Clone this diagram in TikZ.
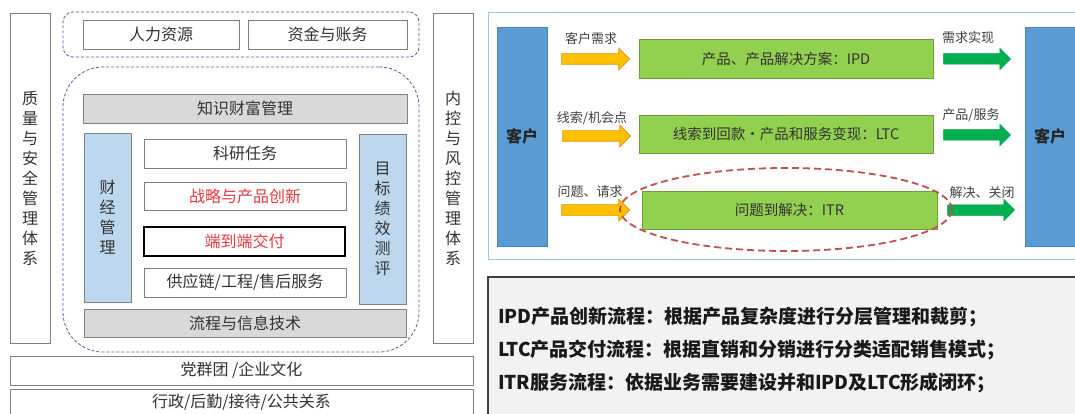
\documentclass[tikz,border=0pt]{standalone}
\usepackage{fontspec}
\setmainfont{Noto Sans CJK SC}
\usetikzlibrary{shapes.arrows,shapes.geometric}
\definecolor{txt}{HTML}{333333}
\definecolor{bord}{HTML}{808080}
\definecolor{lblue}{HTML}{BDD7EE}
\definecolor{lgray}{HTML}{D9D9D9}
\definecolor{dashc}{HTML}{5A5AA8}
\definecolor{redt}{HTML}{E8383D}
\definecolor{kblue}{HTML}{5B9BD5}
\definecolor{kblueb}{HTML}{4A86BE}
\definecolor{gfill}{HTML}{92D050}
\definecolor{gbord}{HTML}{6E9E3A}
\definecolor{yfill}{HTML}{FFC000}
\definecolor{ybord}{HTML}{D9950A}
\definecolor{afill}{HTML}{00B050}
\definecolor{abord}{HTML}{009A45}
\definecolor{frame}{HTML}{9DC3E6}
\definecolor{ellc}{HTML}{C0504D}
\definecolor{panel}{HTML}{F2F2F2}
\begin{document}
\begin{tikzpicture}[x=1pt,y=-1pt,
  every node/.style={inner sep=0pt,outer sep=0pt},
  lbox/.style={draw=bord,line width=0.9pt,fill=white,text=txt,font=\fontsize{16}{20}\selectfont},
  vbox/.style={lbox,align=center},
  grayb/.style={lbox,fill=lgray},
  blueb/.style={lbox,fill=lblue,align=center},
  grp/.style={draw=dashc,line width=0.8pt,dash pattern=on 3pt off 2pt},
  kbox/.style={draw=kblueb,line width=0.6pt,fill=kblue,font=\fontsize{16}{20}\selectfont\bfseries,text=black!85},
  gbox/.style={draw=gbord,line width=0.8pt,fill=gfill,font=\fontsize{14.5}{17}\selectfont,text=black!80},
  barrow/.style={single arrow,inner xsep=0pt,inner ysep=5pt,single arrow head extend=5.5pt,single arrow head indent=0pt,shape border rotate=0},
  yarrow/.style={barrow,draw=ybord,line width=0.7pt,fill=yfill,minimum height=68pt},
  garrow/.style={barrow,draw=abord,line width=0.5pt,fill=afill,minimum height=67pt},
  lab/.style={font=\fontsize{13}{15}\selectfont,text=black!75},
  btxt/.style={anchor=west,font=\fontsize{19}{22}\selectfont\bfseries,text=black!90}]
\useasboundingbox (0,0) rectangle (1075,414);
\clip (0,0) rectangle (1075,414);
\fill[white] (0,0) rectangle (1075,414);
% ---------- left part ----------
\node[vbox,minimum width=40pt,minimum height=330pt] (qa) at (30,178) {质\\量\\与\\安\\全\\管\\理\\体\\系};
\node[vbox,minimum width=40pt,minimum height=330pt] (nk) at (453,178) {内\\控\\与\\风\\控\\管\\理\\体\\系};
\node[grp,rounded corners=10pt,minimum width=356pt,minimum height=45pt] (topgrp) at (241,34.5) {};
\node[lbox,minimum width=156pt,minimum height=29pt] (hr) at (161,34.5) {人力资源};
\node[lbox,minimum width=159pt,minimum height=29pt] (fin) at (327.5,34.5) {资金与账务};
\node[grp,rounded corners=40pt,minimum width=356pt,minimum height=285pt] (core) at (241,209.5) {};
\node[grayb,minimum width=324pt,minimum height=29pt] (km) at (245,108.5) {知识财富管理};
\node[blueb,minimum width=47pt,minimum height=169pt] (cj) at (107.5,217.5) {财\\经\\管\\理};
\node[blueb,minimum width=47pt,minimum height=170pt] (mb) at (382.5,219) {目\\标\\绩\\效\\测\\评};
\node[lbox,minimum width=202pt,minimum height=29pt] (ky) at (245,153.5) {科研任务};
\node[lbox,minimum width=202pt,minimum height=28pt,text=redt] (zl) at (245,196) {战略与产品创新};
\node[lbox,draw=black,line width=1.2pt,minimum width=201pt,minimum height=29pt,text=redt] (dd) at (244.5,241.5) {端到端交付};
\node[lbox,minimum width=202pt,minimum height=29pt] (gy) at (245,282.5) {供应链/工程/售后服务};
\node[grayb,minimum width=322pt,minimum height=28pt] (lc) at (245,323) {流程与信息技术};
\node[lbox,minimum width=463pt,minimum height=29pt] (dq) at (241.5,370.5) {党群团 /企业文化};
\node[lbox,minimum width=463pt,minimum height=29pt] (xz) at (241.5,403.5) {};
\node[text=txt,font=\fontsize{16}{20}\selectfont] (xzt) at (241.5,402) {行政/后勤/接待/公共关系};
% ---------- right top panel ----------
\node[draw=frame,line width=1pt,minimum width=600pt,minimum height=246pt] (pnl) at (788,136) {};
\node[kbox,minimum width=50pt,minimum height=219pt] (khl) at (522,136.5) {客户};
\node[kbox,minimum width=56pt,minimum height=219pt,text width=50pt,align=left] (khr) at (1053,136.5) {\hspace*{6pt}客户};
\node[gbox,minimum width=294pt,minimum height=39pt] (g1) at (786,58.5) {产品、产品解决方案：IPD};
\node[gbox,minimum width=294pt,minimum height=38pt] (g2) at (786,134) {线索到回款·产品和服务变现：LTC};
\node[gbox,minimum width=295pt,minimum height=38pt] (g3) at (789.5,210) {问题到解决：ITR};
\node[yarrow] (y1) at (593,59) {};
\node[yarrow] (y2) at (594,136) {};
\node[yarrow] (y3) at (593,210) {};
\node[garrow] (a1) at (974.5,59) {};
\node[garrow] (a2) at (974.5,135) {};
\node[garrow] (a3) at (978.5,210) {};
\node[lab] (l1) at (591,39) {客户需求};
\node[lab] (l2) at (592,118) {线索/机会点};
\node[lab] (l3) at (590,192) {问题、请求};
\node[lab] (r1) at (968,38) {需求实现};
\node[lab] (r2) at (971,115) {产品/服务};
\node[lab] (r3) at (982,193) {解决、关闭};
\node[ellipse,draw=ellc,line width=1.8pt,dash pattern=on 7pt off 4pt,minimum width=332pt,minimum height=83pt] (itr) at (786,209.5) {};
% ---------- bottom text panel ----------
\node[draw=black!75,line width=1.2pt,fill=panel,minimum width=600pt,minimum height=150pt,anchor=north west] (txtp) at (488,277) {};
\node[btxt] (t1) at (498,317) {IPD产品创新流程：根据产品复杂度进行分层管理和裁剪；};
\node[btxt] (t2) at (498,350) {LTC产品交付流程：根据直销和分销进行分类适配销售模式；};
\node[btxt] (t3) at (498,383) {ITR服务流程：依据业务需要建设并和IPD及LTC形成闭环；};
\end{tikzpicture}
\end{document}
